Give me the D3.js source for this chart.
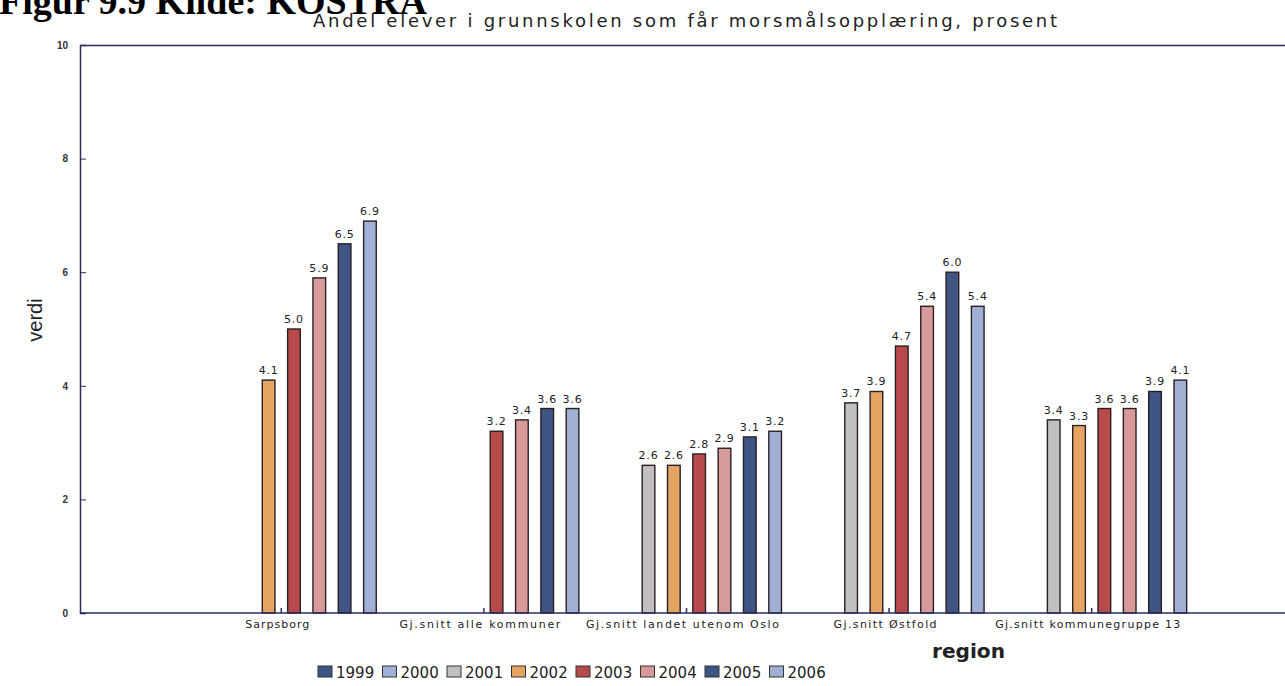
<!DOCTYPE html>
<html><head><meta charset="utf-8">
<script src="https://cdn.jsdelivr.net/npm/d3@7"></script>
<style>body{margin:0;background:#fff}svg{display:block}</style>
</head><body><div id="c"></div>
<script>
const categories = ["Sarpsborg","Gj.snitt alle kommuner","Gj.snitt landet utenom Oslo","Gj.snitt Østfold","Gj.snitt kommunegruppe 13"];
const years = ["1999","2000","2001","2002","2003","2004","2005","2006"];
const v1999 = [null,null,null,null,null];
const v2000 = [null,null,null,null,null];
const v2001 = [null,null,2.6,3.7,3.4];
const v2002 = [4.1,null,2.6,3.9,3.3];
const v2003 = [5.0,3.2,2.8,4.7,3.6];
const v2004 = [5.9,3.4,2.9,5.4,3.6];
const v2005 = [6.5,3.6,3.1,6.0,3.9];
const v2006 = [6.9,3.6,3.2,5.4,4.1];
const yTicks = [0,2,4,6,8,10];
const colors = ["#3f5685","#9fb0d4","#c0c0c0","#e5a462","#b84a4c","#d8999a","#3f5685","#9fb0d4"];
const seriesValues = [v1999,v2000,v2001,v2002,v2003,v2004,v2005,v2006];

const W=1285,H=686;
const svg=d3.select("#c").append("svg").attr("width",W).attr("height",H);
const navy="#2b2d5e";

const x0=d3.scaleBand().domain(categories).range([180,1193]).padding(0);
const x1=d3.scaleBand().domain(years).range([0,x0.bandwidth()]).paddingInner(0.5).paddingOuter(0.25);
const y=d3.scaleLinear().domain([0,10]).range([613,45]);

// header
svg.append("text").attr("x",-1).attr("y",14).attr("font-family","Liberation Serif").attr("font-weight","bold")
  .attr("font-size",38).attr("fill","#000").text("Figur 9.9 Kilde: KOSTRA");
svg.append("text").attr("x",313).attr("y",27).attr("font-family","DejaVu Sans").attr("font-size",18)
  .attr("fill","#222").attr("textLength",744).attr("lengthAdjust","spacing")
  .text("Andel elever i grunnskolen som får morsmålsopplæring, prosent");

// frame
svg.append("line").attr("x1",80).attr("x2",W).attr("y1",45.5).attr("y2",45.5).attr("stroke",navy).attr("stroke-width",1.5);

// bars
const data=[];
categories.forEach((c,ci)=>years.forEach((yr,yi)=>{const v=seriesValues[yi][ci]; if(v!=null) data.push({c,yr,v,col:colors[yi]});}));
const g=svg.append("g");
g.selectAll("rect").data(data).join("rect")
  .attr("x",d=>x0(d.c)+x1(d.yr)).attr("width",x1.bandwidth())
  .attr("y",d=>y(d.v)).attr("height",d=>y(0)-y(d.v))
  .attr("fill",d=>d.col).attr("stroke","#2a1f22").attr("stroke-width",1.4);
g.selectAll("text").data(data).join("text")
  .attr("x",d=>x0(d.c)+x1(d.yr)+x1.bandwidth()/2).attr("y",d=>y(d.v)-6)
  .attr("text-anchor","middle").attr("font-family","DejaVu Sans").attr("font-size",11)
  .attr("letter-spacing",0.8).attr("fill","#222").text(d=>d.v.toFixed(1));

// y axis
const ya=svg.append("g").attr("transform","translate(80,0)")
  .call(d3.axisRight(y).tickValues(yTicks).tickSize(6).tickFormat(d3.format("d")));
ya.select(".domain").attr("stroke",navy).attr("stroke-width",1.5);
ya.selectAll(".tick line").attr("stroke",navy).filter(d=>d===0||d===10).remove();
ya.selectAll(".tick text").attr("x",-12).attr("text-anchor","end").attr("font-family","Liberation Sans")
  .attr("font-size",10).attr("font-weight","bold").attr("fill","#333");

// x axis
const xa=svg.append("g").attr("transform","translate(0,613)")
  .call(d3.axisTop(x0).tickSize(5).tickFormat(""));
xa.select(".domain").remove();
xa.selectAll(".tick line").attr("stroke",navy).attr("stroke-width",1.5);
svg.append("line").attr("x1",80).attr("x2",W).attr("y1",613).attr("y2",613).attr("stroke",navy).attr("stroke-width",1.5);
const labW=[64,161,193,103,185];
svg.selectAll("text.cat").data(categories).join("text").attr("class","cat")
  .attr("x",d=>x0(d)+x0.bandwidth()/2-4).attr("y",628).attr("text-anchor","middle")
  .attr("font-family","DejaVu Sans").attr("font-size",11).attr("fill","#222")
  .attr("textLength",(d,i)=>labW[i]).attr("lengthAdjust","spacing").text(d=>d);

// axis titles
svg.append("text").attr("transform","translate(42,320) rotate(-90)").attr("text-anchor","middle")
  .attr("font-family","Liberation Sans").attr("font-size",20).attr("fill","#222").text("verdi");
svg.append("text").attr("x",932).attr("y",658)
  .attr("font-family","DejaVu Sans").attr("font-size",19).attr("font-weight","bold").attr("fill","#222")
  .attr("textLength",73).attr("lengthAdjust","spacingAndGlyphs").text("region");

// legend
const lg=svg.selectAll("g.lg").data(years).join("g").attr("class","lg")
  .attr("transform",(d,i)=>`translate(${318+i*64.5},666)`);
lg.append("rect").attr("width",14).attr("height",11).attr("fill",(d,i)=>colors[i]).attr("stroke","#333").attr("stroke-width",1);
lg.append("text").attr("x",18).attr("y",11.5).attr("font-family","DejaVu Sans").attr("font-size",15).attr("fill","#222").text(d=>d);
</script></body></html>
